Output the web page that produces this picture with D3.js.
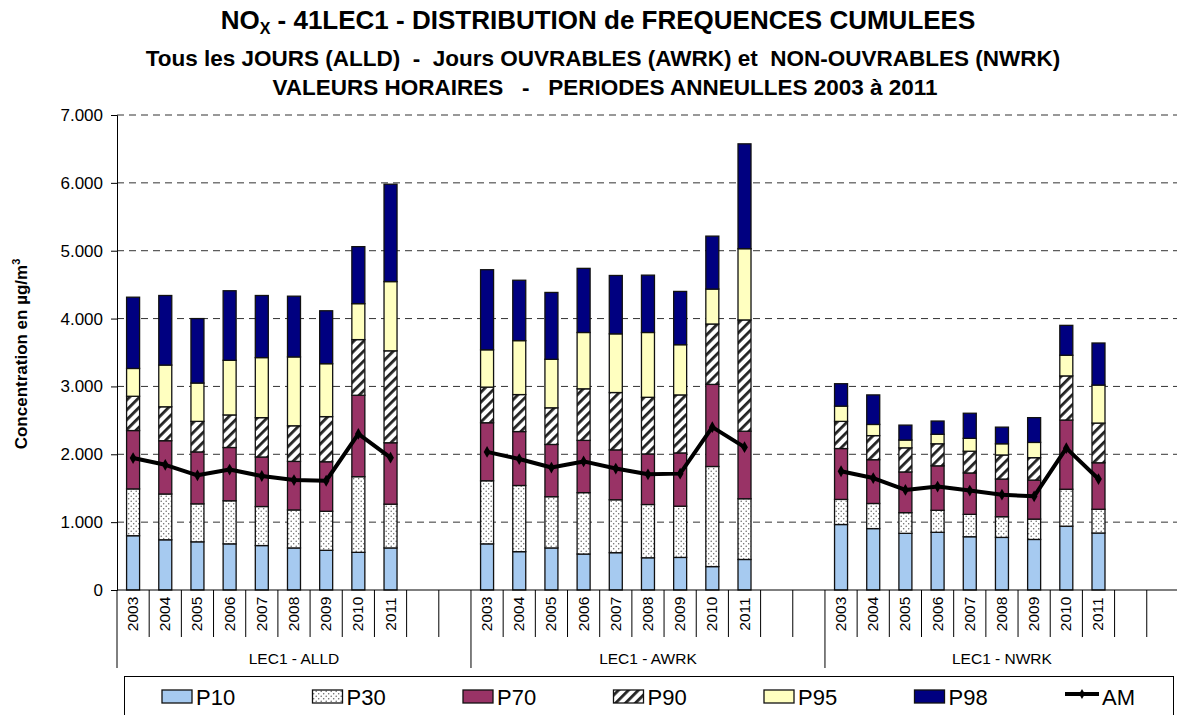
<!DOCTYPE html>
<html>
<head>
<meta charset="utf-8">
<script src="https://cdn.jsdelivr.net/npm/d3@7"></script>
<style>
  body { margin: 0; background: #fff; }
  svg { display: block; font-family: "Liberation Sans", Arial, sans-serif; }
</style>
</head>
<body>
<svg id="chart" width="1177" height="715"></svg>
<script>
// data (cumulative percentile values, µg/m3)
const groups = ['LEC1 - ALLD', 'LEC1 - AWRK', 'LEC1 - NWRK'];
const years = ['2003', '2004', '2005', '2006', '2007', '2008', '2009', '2010', '2011'];
const blankSlots = 2;

const p10 = [800, 740, 710, 680, 655, 620, 585, 555, 620,
             680, 565, 620, 530, 550, 475, 480, 345, 450,
             965, 905, 835, 850, 785, 775, 745, 940, 840];
const p30 = [1490, 1415, 1270, 1315, 1230, 1180, 1160, 1670, 1265,
             1610, 1540, 1375, 1435, 1330, 1260, 1235, 1820, 1345,
             1335, 1275, 1140, 1175, 1115, 1080, 1045, 1485, 1190];
const p70 = [2350, 2200, 2035, 2100, 1960, 1895, 1890, 2870, 2170,
             2465, 2335, 2145, 2205, 2065, 2005, 2020, 3030, 2340,
             2085, 1920, 1740, 1830, 1725, 1635, 1620, 2505, 1875];
const p90 = [2855, 2700, 2485, 2580, 2540, 2420, 2555, 3690, 3525,
             2990, 2880, 2685, 2965, 2910, 2840, 2875, 3920, 3980,
             2485, 2275, 2095, 2155, 2045, 1990, 1950, 3155, 2460];
const p95 = [3265, 3315, 3050, 3385, 3425, 3435, 3335, 4220, 4545,
             3540, 3675, 3400, 3795, 3775, 3795, 3615, 4435, 5030,
             2710, 2440, 2210, 2295, 2235, 2155, 2175, 3460, 3020];
const p98 = [4315, 4340, 4000, 4410, 4340, 4330, 4115, 5060, 5980,
             4720, 4565, 4385, 4740, 4635, 4640, 4400, 5215, 6575,
             3040, 2875, 2430, 2490, 2605, 2400, 2540, 3900, 3640];
const am  = [1945, 1845, 1690, 1775, 1680, 1620, 1610, 2300, 1950,
             2035, 1930, 1805, 1895, 1790, 1705, 1715, 2400, 2105,
             1750, 1650, 1475, 1525, 1465, 1405, 1380, 2090, 1635];

const seriesNames = ['P10', 'P30', 'P70', 'P90', 'P95', 'P98'];
const seriesValues = [p10, p30, p70, p90, p95, p98];
const yTicks = [0, 1000, 2000, 3000, 4000, 5000, 6000, 7000];

const svg = d3.select('#chart');
const margin = { left: 117, top: 115, bottom: 590 };
const slotsPerGroup = years.length + blankSlots;
const slotCount = groups.length * slotsPerGroup;
const slotW = 32.18;
const xEnd = margin.left + slotCount * slotW;

const fills = {
    P10: '#a6caf0',
    P30: 'url(#dots)',
    P70: '#993366',
    P90: 'url(#stripes)',
    P95: '#ffffc0',
    P98: '#000080'
};

// patterns
const defs = svg.append('defs');
const dots = defs.append('pattern')
    .attr('id', 'dots')
    .attr('patternUnits', 'userSpaceOnUse')
    .attr('width', 5).attr('height', 5);
dots.append('rect').attr('width', 5).attr('height', 5).attr('fill', '#fff');
dots.append('circle').attr('cx', 1.2).attr('cy', 1.2).attr('r', 0.75).attr('fill', '#666');
dots.append('circle').attr('cx', 3.7).attr('cy', 3.7).attr('r', 0.75).attr('fill', '#666');

const stripes = defs.append('pattern')
    .attr('id', 'stripes')
    .attr('patternUnits', 'userSpaceOnUse')
    .attr('width', 7).attr('height', 7)
    .attr('patternTransform', 'rotate(45)');
stripes.append('rect').attr('width', 7).attr('height', 7).attr('fill', '#fff');
stripes.append('rect').attr('width', 2.8).attr('height', 7).attr('fill', '#222');

// scales
const slots = d3.range(slotCount);
const x = d3.scaleBand()
    .domain(slots)
    .range([margin.left, xEnd])
    .paddingInner(0)
    .paddingOuter(0);
const y = d3.scaleLinear()
    .domain([0, 7000])
    .range([margin.bottom, margin.top]);

const fmt = d3.formatLocale({ decimal: ',', thousands: '.', grouping: [3], currency: ['', ''] }).format(',d');

// slot index for data index
const slotOf = i => Math.floor(i / years.length) * slotsPerGroup + (i % years.length);

// titles
const title = svg.append('g').attr('font-weight', 'bold').attr('text-anchor', 'middle').attr('fill', '#000');
const t1 = title.append('text').attr('x', 598).attr('y', 29).attr('font-size', 26);
t1.append('tspan').text('NO');
t1.append('tspan').text('X').attr('font-size', 16).attr('dy', 5);
t1.append('tspan').text(' - 41LEC1 - DISTRIBUTION de FREQUENCES CUMULEES').attr('dy', -5);
title.append('text').attr('x', 603).attr('y', 66).attr('font-size', 22.5)
    .attr('xml:space', 'preserve')
    .text('Tous les JOURS (ALLD)  -  Jours OUVRABLES (AWRK) et  NON-OUVRABLES (NWRK)');
title.append('text').attr('x', 605).attr('y', 95).attr('font-size', 22.5)
    .attr('xml:space', 'preserve')
    .text('VALEURS HORAIRES   -   PERIODES ANNEULLES 2003 à 2011');

// gridlines
svg.append('g')
    .selectAll('line')
    .data(yTicks.filter(d => d > 0))
    .join('line')
    .attr('x1', margin.left).attr('x2', 1177)
    .attr('y1', d => y(d)).attr('y2', d => y(d))
    .attr('stroke', '#333')
    .attr('stroke-width', 1)
    .attr('stroke-dasharray', '7,5');

// y axis
const yAxis = svg.append('g')
    .attr('transform', `translate(${margin.left},0)`)
    .call(d3.axisLeft(y).tickValues(yTicks).tickFormat(fmt).tickSize(6).tickPadding(8));
yAxis.select('.domain').attr('stroke', '#000');
yAxis.selectAll('.tick line').attr('stroke', '#000');
yAxis.selectAll('text').attr('font-size', 17).attr('fill', '#000')
    .attr('font-family', '"Liberation Sans", Arial, sans-serif');

svg.append('text')
    .attr('transform', `translate(27,354) rotate(-90)`)
    .attr('text-anchor', 'middle')
    .attr('font-size', 17)
    .attr('font-weight', 'bold')
    .call(t => {
        t.append('tspan').text('Concentration en µg/m');
        t.append('tspan').text('3').attr('font-size', 11).attr('dy', -7);
    });

// bars
const barW = 13;
const barG = svg.append('g');
seriesNames.forEach((name, s) => {
    const vals = seriesValues[s];
    barG.append('g')
        .selectAll('rect')
        .data(vals.map((v, i) => ({ i, lo: s === 0 ? 0 : seriesValues[s - 1][i], hi: v })))
        .join('rect')
        .attr('x', d => x(slotOf(d.i)) + (x.bandwidth() - barW) / 2)
        .attr('y', d => y(d.hi))
        .attr('width', barW)
        .attr('height', d => y(d.lo) - y(d.hi))
        .attr('fill', fills[name])
        .attr('stroke', '#111')
        .attr('stroke-width', 1.3);
});

// AM line, one per group
const line = d3.line()
    .x(d => x(slotOf(d.i)) + x.bandwidth() / 2)
    .y(d => y(d.v));
groups.forEach((g, gi) => {
    const pts = years.map((yr, k) => ({ i: gi * years.length + k, v: am[gi * years.length + k] }));
    svg.append('path')
        .datum(pts)
        .attr('d', line)
        .attr('fill', 'none')
        .attr('stroke', '#000')
        .attr('stroke-width', 4)
        .attr('stroke-linejoin', 'round');
    svg.append('g').selectAll('path')
        .data(pts)
        .join('path')
        .attr('d', d3.symbol(d3.symbolDiamond, 40))
        .attr('transform', d => `translate(${x(slotOf(d.i)) + x.bandwidth() / 2},${y(d.v)})`)
        .attr('fill', '#000');
});

// category axis
const cat = svg.append('g');
cat.append('line')
    .attr('x1', margin.left).attr('x2', 1177)
    .attr('y1', margin.bottom).attr('y2', margin.bottom)
    .attr('stroke', '#000');
cat.selectAll('line.sep')
    .data(d3.range(slotCount + 1))
    .join('line')
    .attr('class', 'sep')
    .attr('x1', d => x(0) + d * x.bandwidth())
    .attr('x2', d => x(0) + d * x.bandwidth())
    .attr('y1', margin.bottom)
    .attr('y2', d => d % slotsPerGroup === 0 ? 668 : 637)
    .attr('stroke', '#000')
    .attr('stroke-width', 1);

cat.selectAll('text.yr')
    .data(d3.range(groups.length * years.length))
    .join('text')
    .attr('class', 'yr')
    .attr('transform', i => `translate(${x(slotOf(i)) + x.bandwidth() / 2 + 5},614) rotate(-90)`)
    .attr('text-anchor', 'middle')
    .attr('font-size', 15.5)
    .text(i => years[i % years.length]);

cat.selectAll('text.grp')
    .data(groups)
    .join('text')
    .attr('class', 'grp')
    .attr('x', (g, gi) => x(gi * slotsPerGroup) + slotsPerGroup * x.bandwidth() / 2)
    .attr('y', 664)
    .attr('text-anchor', 'middle')
    .attr('font-size', 15.5)
    .text(g => g);

// legend
const legend = svg.append('g');
legend.append('rect')
    .attr('x', 124.5).attr('y', 676.5)
    .attr('width', 1049).attr('height', 50)
    .attr('fill', '#fff').attr('stroke', '#000');
const legendNames = seriesNames.concat(['AM']);
const legX = d3.scaleLinear().domain([0, 6]).range([162, 1065]);
legendNames.forEach((name, k) => {
    const lx = legX(k);
    if (name === 'AM') {
        legend.append('line')
            .attr('x1', lx).attr('x2', lx + 34)
            .attr('y1', 694).attr('y2', 694)
            .attr('stroke', '#000').attr('stroke-width', 4);
        legend.append('path')
            .attr('d', d3.symbol(d3.symbolDiamond, 30))
            .attr('transform', `translate(${lx + 17},694)`)
            .attr('fill', '#000');
        legend.append('text').attr('x', lx + 37).attr('y', 705)
            .attr('font-size', 22).text(name);
    } else {
        legend.append('rect')
            .attr('x', lx).attr('y', 690)
            .attr('width', 30).attr('height', 13)
            .attr('fill', fills[name])
            .attr('stroke', '#111').attr('stroke-width', 1.3);
        legend.append('text').attr('x', lx + 34).attr('y', 705)
            .attr('font-size', 22).text(name);
    }
});
</script>
</body>
</html>
